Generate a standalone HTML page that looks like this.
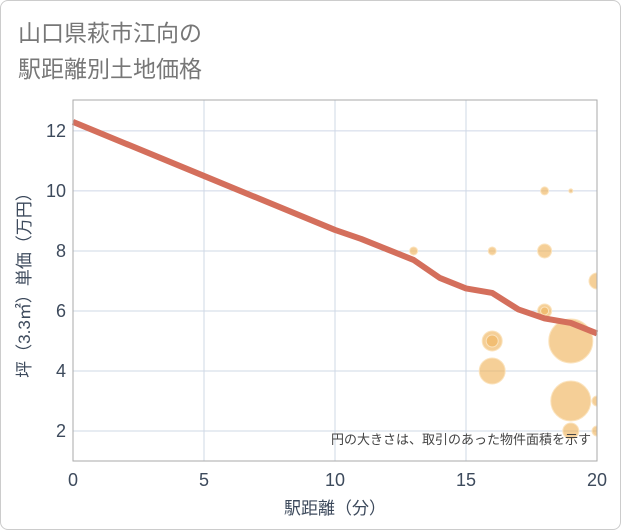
<!DOCTYPE html>
<html><head><meta charset="utf-8"><style>
body{margin:0;background:#fff;font-family:"Liberation Sans","Noto Sans CJK JP",sans-serif}
#wrap{position:relative;width:619px;height:528px;border:1px solid #ccc;border-radius:8px;overflow:hidden;background:#fff}
</style></head><body>
<div id="wrap">
<svg id="c" width="621" height="530" style="position:absolute;left:-1px;top:-1px">
<text x="18" y="41" font-size="23" fill="#777">山口県萩市江向の</text>
<text x="18" y="77" font-size="23" fill="#777">駅距離別土地価格</text>
<g id="grid"></g><g id="bubbles"></g><g id="line"></g><g id="axes"></g>
<text x="591" y="444" font-size="13" fill="#444" text-anchor="end">円の大きさは、取引のあった物件面積を示す</text>
<text x="335" y="514" font-size="17" fill="#3d4a5c" text-anchor="middle">駅距離（分）</text>
<text transform="translate(30,281) rotate(-90)" font-size="17" fill="#3d4a5c" text-anchor="middle">坪（3.3㎡）単価（万円）</text>
</svg></div>
<script>
const xTicks=[0,5,10,15,20];
const yTicks=[2,4,6,8,10,12];
const lineX=[0,5,10,11,12,13,14,15,16,17,18,19,20];
const lineY=[12.3,10.5,8.7,8.4,8.05,7.7,7.1,6.75,6.6,6.05,5.75,5.6,5.25];
const bubX=[13,16,18,19,18,18,18,20,16,16,16,19,19,19,20,20];
const bubY=[8,8,10,10,8,6,6,7,5,5,4,5,3,2,3,2];
const bubR=[4,4,4,2,7,7,4,8,10,6,13,22,20,8,5,5];
const L=73,R=597,T=100,B=461;
const sx=v=>L+(v-0)/20*(R-L);
const sy=v=>B-(v-1)/(13.03-1)*(B-T);
const NS="http://www.w3.org/2000/svg";
function mk(p,t,a){const e=document.createElementNS(NS,t);for(const k in a)e.setAttribute(k,a[k]);p.appendChild(e);return e;}
const g=document.getElementById('grid'),bb=document.getElementById('bubbles'),ln=document.getElementById('line'),ax=document.getElementById('axes');
xTicks.forEach(v=>{const l=mk(g,'line',{x1:sx(v),x2:sx(v),y1:T,y2:B,stroke:'#cfd8e6','stroke-width':1});


const t=mk(ax,'text',{x:sx(v),y:B+25,'font-size':18,fill:'#3d4a5c','text-anchor':'middle'});t.textContent=v;

});
yTicks.forEach(v=>{const l=mk(g,'line',{x1:L,x2:R,y1:sy(v),y2:sy(v),stroke:'#cfd8e6','stroke-width':1});


const t=mk(ax,'text',{x:L-7,y:sy(v)+6,'font-size':18,fill:'#3d4a5c','text-anchor':'end'});t.textContent=v;

});
const fr=mk(ax,'rect',{x:L,y:T,width:R-L,height:B-T,fill:'none',stroke:'#aaa','stroke-width':1});


mk(bb,'clipPath',{id:'cp'}).appendChild(document.createElementNS(NS,'rect'));
const cr=bb.querySelector('clipPath rect');cr.setAttribute('x',L);cr.setAttribute('y',T);cr.setAttribute('width',R-L);cr.setAttribute('height',B-T);
const bg=mk(bb,'g',{'clip-path':'url(#cp)'});
bubX.forEach((x,i)=>{const c=mk(bg,'circle',{cx:sx(x),cy:sy(bubY[i]),r:bubR[i],fill:'#f0b660','fill-opacity':0.65,stroke:'#fbe3bd','stroke-width':1});

});
const p=mk(ln,'polyline',{points:lineX.map((x,i)=>sx(x)+','+sy(lineY[i])).join(' '),fill:'none',stroke:'#d46f5c','stroke-width':6,'stroke-linejoin':'round'});


</script>
</body></html>
